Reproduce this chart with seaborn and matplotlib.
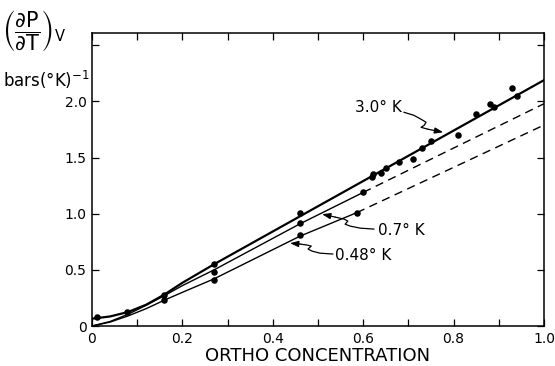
import numpy as np
import pandas as pd
import matplotlib
matplotlib.use("Agg")
import matplotlib.pyplot as plt
import seaborn as sns

# ---- data ----
pts_x = [0.01, 0.077, 0.16, 0.16, 0.27, 0.27, 0.27, 0.46, 0.46, 0.46, 0.586, 0.60,
         0.62, 0.622, 0.64, 0.65, 0.68, 0.71, 0.73, 0.75, 0.81, 0.85, 0.88, 0.89, 0.93, 0.94]
pts_y = [0.08, 0.125, 0.28, 0.23, 0.55, 0.48, 0.41, 1.01, 0.92, 0.81, 1.01, 1.19,
         1.33, 1.35, 1.36, 1.41, 1.46, 1.49, 1.59, 1.65, 1.70, 1.89, 1.98, 1.95, 2.12, 2.05]

c30_x = [0.0, 0.04, 0.08, 0.12, 0.16, 0.20, 0.27, 1.0]
c30_y = [0.065, 0.085, 0.125, 0.19, 0.28, 0.385, 0.55, 2.19]

c07_x = [0.0, 0.04, 0.08, 0.12, 0.16, 0.20, 0.27, 0.46, 0.60]
c07_y = [0.0, 0.04, 0.105, 0.185, 0.27, 0.36, 0.50, 0.91, 1.19]
c07d_x = [0.60, 1.0]
c07d_y = [1.19, 1.98]

c048_x = [0.0, 0.04, 0.08, 0.12, 0.16, 0.20, 0.27, 0.46, 0.586]
c048_y = [0.0, 0.035, 0.09, 0.155, 0.23, 0.30, 0.42, 0.80, 1.01]
c048d_x = [0.586, 1.0]
c048d_y = [1.01, 1.79]

x_ticks = [0, 0.2, 0.4, 0.6, 0.8, 1.0]
x_ticklabels = ["0", "0.2", "0.4", "0.6", "0.8", "1.0"]
y_ticks = [0, 0.5, 1.0, 1.5, 2.0, 2.5]
y_ticklabels = ["0", "0.5", "1.0", "1.5", "2.0", ""]

labels = ["3.0° K", "0.7° K", "0.48° K"]

sns.set_style("ticks")
plt.rcParams['font.family'] = ['DejaVu Sans']
plt.rcParams.update({"text.color": "black", "axes.labelcolor": "black",
                     "xtick.color": "black", "ytick.color": "black",
                     "mathtext.fontset": "dejavusans"})

fig = plt.figure(figsize=(5.55, 3.66), dpi=100)
ax = fig.add_axes([92/555, 40/366, 452/555, 293/366])

def line(xs, ys, lw, dashed=False):
    df = pd.DataFrame({"x": xs, "y": ys})
    l = sns.lineplot(data=df, x="x", y="y", ax=ax, color="black", lw=lw,
                     estimator=None, sort=False)
    if dashed:
        l.lines[-1].set_dashes((6, 4))

line(c30_x, c30_y, 1.6)
line(c07_x, c07_y, 1.0)
line(c07d_x, c07d_y, 1.0, dashed=True)
line(c048_x, c048_y, 1.0)
line(c048d_x, c048d_y, 1.0, dashed=True)

pts = pd.DataFrame({"x": pts_x, "y": pts_y})
sns.scatterplot(data=pts, x="x", y="y", ax=ax, color="black", s=22,
                edgecolor="black", linewidth=0, zorder=5)

# squiggly leader arrows
arrows = [
    ([0.690, 0.712, 0.728, 0.739, 0.735, 0.728, 0.743, 0.777],
     [1.904, 1.877, 1.842, 1.815, 1.788, 1.770, 1.753, 1.726]),
    ([0.624, 0.593, 0.571, 0.560, 0.566, 0.558, 0.538, 0.509],
     [0.863, 0.872, 0.890, 0.907, 0.934, 0.952, 0.970, 0.996]),
    ([0.533, 0.504, 0.487, 0.478, 0.485, 0.476, 0.460, 0.438],
     [0.641, 0.649, 0.667, 0.685, 0.712, 0.721, 0.730, 0.738]),
]
for xs, ys in arrows:
    ax.plot(xs[:-1], ys[:-1], color="black", lw=0.9)
    ax.annotate("", xy=(xs[-1], ys[-1]), xytext=(xs[-2], ys[-2]),
                arrowprops=dict(arrowstyle="-|>,head_length=0.5,head_width=0.18",
                                color="black", lw=0.9, shrinkA=0, shrinkB=0))

text_pos = [(0.582, 1.95), (0.633, 0.854), (0.538, 0.632)]
for (tx, ty), lab in zip(text_pos, labels):
    ax.text(tx, ty, lab, ha="left", va="center", fontsize=11, color="black")

ax.set_xlim(0, 1.0)
ax.set_ylim(0, 2.61)
ax.set_xticks(x_ticks)
ax.set_xticklabels(x_ticklabels)
ax.set_xticks(np.arange(0.1, 1.0, 0.2), minor=True)
ax.set_yticks(y_ticks)
ax.set_yticklabels(y_ticklabels)
ax.tick_params(which="both", direction="in", top=True, right=True,
               labelsize=10, length=5, width=0.9, pad=4, colors="black")
ax.set_xlabel("ORTHO CONCENTRATION", fontsize=13, labelpad=1, color="black")
ax.set_ylabel("")
for s in ax.spines.values():
    s.set_linewidth(1.1)
    s.set_color("black")

fig.text(2/555, 1 - 31/366,
         r"$\left(\dfrac{\partial \mathrm{P}}{\partial \mathrm{T}}\right)_{\mathrm{V}}$",
         fontsize=15, ha="left", va="center", color="black")
fig.text(3/555, 1 - 80/366, r"bars(°K)$^{-1}$", fontsize=12, ha="left",
         va="center", color="black")

fig.savefig("out.png", dpi=100)
